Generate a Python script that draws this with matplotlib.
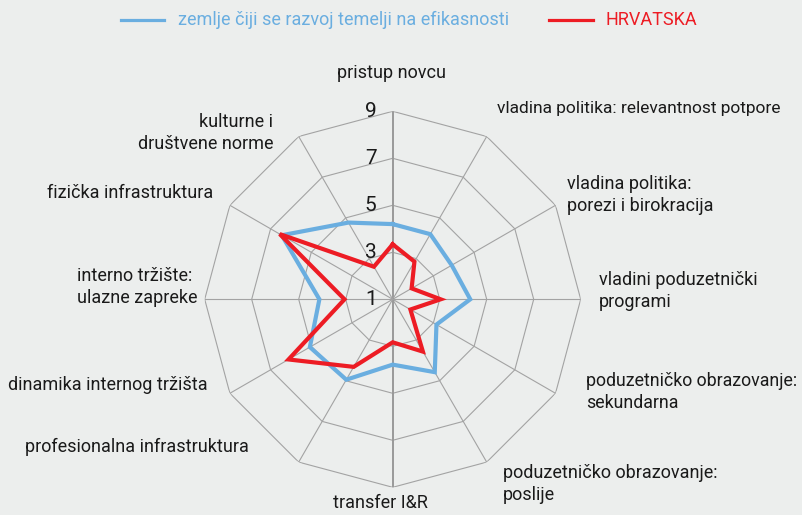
import numpy as np
import matplotlib
matplotlib.use("Agg")
import matplotlib.pyplot as plt
from matplotlib import font_manager
from matplotlib.transforms import offset_copy

categories = [
    "pristup novcu",
    "vladina politika: relevantnost potpore",
    "vladina politika:\nporezi i birokracija",
    "vladini poduzetnički\nprogrami",
    "poduzetničko obrazovanje:\nsekundarna",
    "poduzetničko obrazovanje:\nposlije",
    "transfer I&R",
    "profesionalna infrastruktura",
    "dinamika internog tržišta",
    "interno tržište:\nulazne zapreke",
    "fizička infrastruktura",
    "kulturne i\ndruštvene norme",
]
efficiency = [4.2, 4.2, 3.9, 4.3, 3.15, 4.58, 3.78, 4.95, 5.07, 4.12, 6.45, 4.77]
hrvatska = [3.34, 2.85, 1.93, 3.04, 1.87, 3.57, 2.83, 4.32, 6.12, 3.05, 6.55, 2.6]
series_names = ["zemlje čiji se razvoj temelji na efikasnosti", "HRVATSKA"]
ticks = [1, 3, 5, 7, 9]

avail = {f.name for f in font_manager.fontManager.ttflist}
fam = "Liberation Sans Narrow" if "Liberation Sans Narrow" in avail else "Roboto"
plt.rcParams["font.family"] = [fam, "DejaVu Sans"]

BG = "#eceeed"
BLUE = "#6aaee0"
RED = "#ed1c24"
GRID = "#a3a3a3"
TXT = "#1a1a1a"

W, H = 803, 515
fig = plt.figure(figsize=(W / 100, H / 100), dpi=100, facecolor=BG)
cx, cy, R = 392.7, 299.3, 188.0
ax = fig.add_axes([(cx - R) / W, (H - cy - R) / H, 2 * R / W, 2 * R / H], projection="polar")
ax.set_facecolor("none")
ax.set_theta_zero_location("N")
ax.set_theta_direction(-1)
ax.set_ylim(1, 9)
ax.grid(False)
ax.spines["polar"].set_visible(False)
ax.set_xticks([])
ax.set_yticks([])

n = len(categories)
angles = np.arange(n) * 2 * np.pi / n
closed = np.append(angles, angles[0])

for t in ticks[1:]:
    ax.plot(closed, [t] * (n + 1), color=GRID, lw=0.8, zorder=1)
for i, a in enumerate(angles):
    main = (i % 6 == 0)
    ax.plot([a, a], [1, 9], color="#999999" if main else GRID, lw=1.4 if main else 0.8, zorder=1)

ax.plot(closed, efficiency + efficiency[:1], color=BLUE, lw=3.0, zorder=3, solid_joinstyle="miter")
ax.plot(closed, hrvatska + hrvatska[:1], color=RED, lw=3.0, zorder=4, solid_joinstyle="miter")

tr = offset_copy(ax.transData, fig=fig, x=-22, y=0, units="dots")
for t in ticks:
    ax.text(0, t, str(t), transform=tr, ha="center", va="center", fontsize=15, color=TXT, zorder=5)

# category labels (pixel positions)
label_pos = [
    (392, 73, "center", 13),
    (497, 108, "left", 12.5),
    (567, 195, "left", 13),
    (599, 291, "left", 13),
    (586, 392, "left", 12.8),
    (503, 484, "left", 13),
    (380, 503, "center", 13),
    (25, 447, "left", 13),
    (8, 385, "left", 13),
    (77, 287, "left", 13),
    (47, 193, "left", 13),
    (273, 133, "right", 13),
]
for name, (x, y, ha, fs) in zip(categories, label_pos):
    fig.text(x / W, 1 - y / H, name, ha=ha, va="center", fontsize=fs, color=TXT,
             linespacing=1.25, multialignment=ha if ha != "center" else "center")

# legend
ly = 1 - 20 / H
fig.add_artist(plt.Line2D([121 / W, 164 / W], [ly, ly], color=BLUE, lw=2.3))
fig.text(178 / W, ly, series_names[0], color=BLUE, fontsize=13, va="center", ha="left")
fig.add_artist(plt.Line2D([549 / W, 593 / W], [ly, ly], color=RED, lw=2.3))
fig.text(606 / W, ly, series_names[1], color=RED, fontsize=13, va="center", ha="left")

fig.savefig("out.png", dpi=100, facecolor=BG)
